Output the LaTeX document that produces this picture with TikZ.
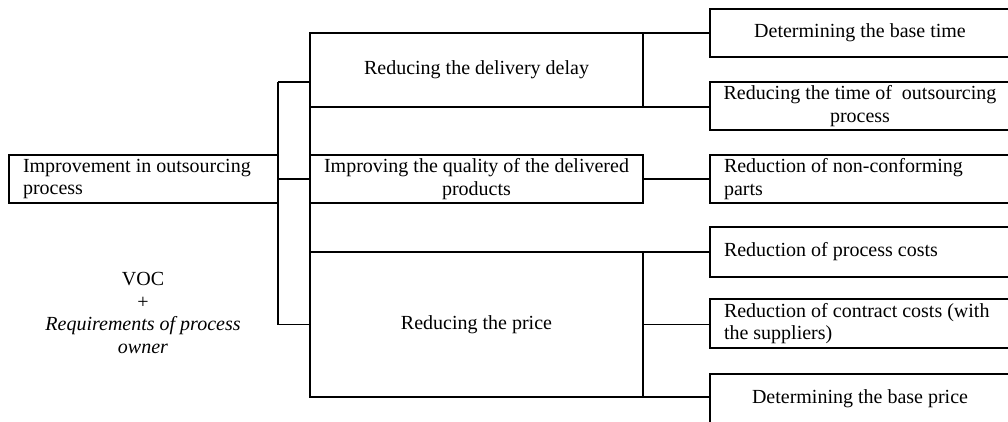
\documentclass[tikz,border=0pt]{standalone}
\usepackage{fontspec}
\setmainfont{Liberation Serif}
\begin{document}
\begin{tikzpicture}[x=1pt,y=-1pt,
  box/.style={draw, line width=1.3pt, rectangle, inner sep=0pt, outer sep=0pt,
    font=\fontsize{20}{22.5}\selectfont, anchor=north west},
  conn/.style={line width=1.1pt},
  txt/.style={font=\fontsize{20}{22.7}\selectfont, align=center, inner sep=0pt}]
\useasboundingbox (0,0) rectangle (1008,421);
% left root
\node[box, minimum width=269pt, minimum height=48pt, text width=241pt, align=flush left]
  (root) at (9,155) {Improvement in outsourcing\\process};
% middle column
\node[box, minimum width=333pt, minimum height=74pt, align=center] (delay) at (310,33) {Reducing the delivery delay};
\node[box, minimum width=333pt, minimum height=48pt, align=center] (quality) at (310,155) {Improving the quality of the delivered\\products};
\node[box, minimum width=333pt, minimum height=145pt, align=center] (price) at (310,252) {Reducing the price};
% right column
\node[box, minimum width=300pt, minimum height=48pt, align=center] (t1) at (710,9) {Determining the base time};
\node[box, minimum width=300pt, minimum height=48pt, align=center] (t2) at (710,82) {Reducing the time of \ outsourcing\\process};
\node[box, minimum width=300pt, minimum height=48pt, text width=272pt, align=flush left] (q1) at (710,155) {Reduction of non-conforming\\parts};
\node[box, minimum width=300pt, minimum height=50pt, text width=272pt, align=flush left] (p1) at (710,227) {Reduction of process costs};
\node[box, minimum width=300pt, minimum height=49pt, text width=272pt, align=flush left] (p2) at (710,299) {Reduction of contract costs (with\\the suppliers)};
\node[box, minimum width=300pt, minimum height=50pt, align=center] (p3) at (710,374) {Determining the base price};
% VOC text
\node[txt] (voc) at (143,313) {VOC\\+\\\textit{Requirements of process}\\\textit{owner}};
% middle column left edge, continuous
\draw[box] (delay.south west) -- (quality.north west);
\draw[box] (quality.south west) -- (price.north west);
% left bus
\coordinate (j1) at (278,82);
\draw[conn] (j1) -- (root.east |- price.west) -- (price.west);
\draw[conn] (j1) -- (j1 -| delay.west);
\draw[conn] (root.east |- quality.west) -- (quality.west);
% right connectors
\draw[conn] (delay.north east) -- (delay.north east -| t1.west);
\draw[conn] (delay.south east) -- (delay.south east -| t2.west);
\draw[conn] (quality.east) -- (quality.east -| q1.west);
\draw[conn] (price.north east) -- (price.north east -| p1.west);
\draw[conn] (price.east) -- (price.east -| p2.west);
\draw[conn] (price.south east) -- (price.south east -| p3.west);
\end{tikzpicture}
\end{document}
